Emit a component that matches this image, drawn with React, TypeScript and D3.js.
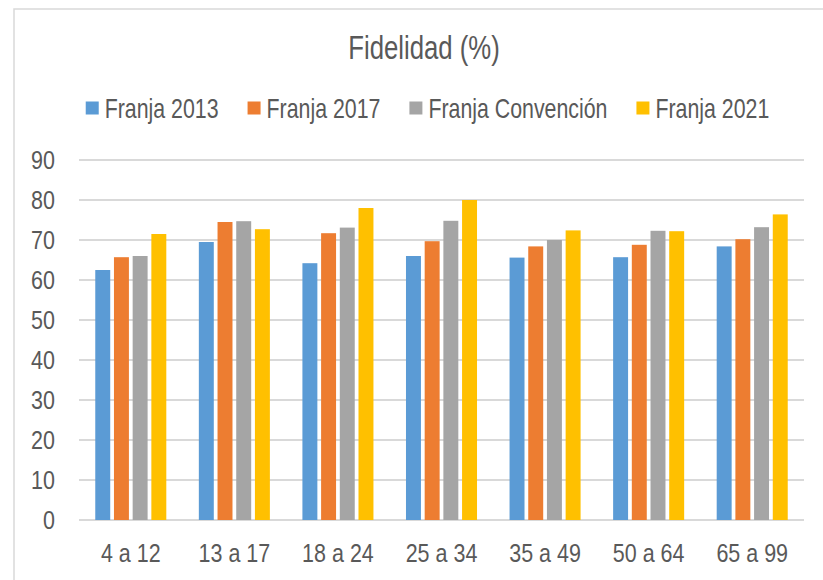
import React from "react";
import * as d3 from "d3";

const categories = ["4 a 12", "13 a 17", "18 a 24", "25 a 34", "35 a 49", "50 a 64", "65 a 99"];
const seriesNames = ["Franja 2013", "Franja 2017", "Franja Convención", "Franja 2021"];
const franja2013 = [62.5, 69.5, 64.2, 66.0, 65.6, 65.7, 68.4];
const franja2017 = [65.7, 74.5, 71.7, 69.7, 68.4, 68.8, 70.2];
const franjaConvencion = [66.0, 74.7, 73.1, 74.8, 70.0, 72.3, 73.2];
const franja2021 = [71.5, 72.7, 78.0, 80.0, 72.4, 72.2, 76.4];
const yTicks = [0, 10, 20, 30, 40, 50, 60, 70, 80, 90];
const colors = ["#5B9BD5", "#ED7D31", "#A5A5A5", "#FFC000"];

const seriesValues = [franja2013, franja2017, franjaConvencion, franja2021];

const W = 823;
const H = 580;
const FONT = "'Liberation Sans', Arial, sans-serif";
const TEXT = "#595959";

let ctx: CanvasRenderingContext2D | null = null;
function measure(text: string, size: number): number {
  if (!ctx) ctx = document.createElement("canvas").getContext("2d");
  if (!ctx) return text.length * size * 0.5;
  ctx.font = `${size}px ${FONT}`;
  return ctx.measureText(text).width;
}

function SText({ x, y, size, sx, anchor = "start", children }: any) {
  return (
    <text
      transform={`translate(${x},${y}) scale(${sx},1)`}
      fontSize={size}
      fontFamily={FONT}
      fill={TEXT}
      textAnchor={anchor}
    >
      {children}
    </text>
  );
}

export default function App() {
  const left = 79;
  const right = 804;
  const y = d3.scaleLinear().domain([0, 90]).range([520, 160]);
  const x0 = d3.scaleBand<string>().domain(categories).range([left, right]).paddingInner(0.278).paddingOuter(0.139);
  const x1 = d3.scaleBand<string>().domain(seriesNames).range([0, x0.bandwidth()]).paddingInner(0.2).paddingOuter(0.1);

  const legendSize = 27;
  const legendSx = 0.79;
  const sq = 13;
  const sqGap = 6;
  const itemGap = 29;
  const widths = seriesNames.map((n) => measure(n, legendSize) * legendSx);
  const total = widths.reduce((a, w) => a + sq + sqGap + w, 0) + itemGap * (seriesNames.length - 1);
  let cur = 427.5 - total / 2;
  const legendItems = seriesNames.map((n, i) => {
    const item = { name: n, x: cur, color: colors[i] };
    cur += sq + sqGap + widths[i] + itemGap;
    return item;
  });

  const axisSize = 25;
  const axisSx = 0.86;

  return (
    <svg width={W} height={H} style={{ position: "absolute", left: 0, top: 0 }}>
      <rect x={0} y={0} width={W} height={H} fill="#ffffff" />
      <rect x={14} y={9} width={W + 20} height={H + 20} fill="#ffffff" stroke="#d9d9d9" strokeWidth={1.5} />
      <SText x={424} y={59} size={33} sx={0.78} anchor="middle">Fidelidad (%)</SText>
      {legendItems.map((it) => (
        <g key={it.name}>
          <rect x={it.x} y={101.5} width={sq} height={sq} fill={it.color} />
          <SText x={it.x + sq + sqGap} y={118} size={legendSize} sx={legendSx}>{it.name}</SText>
        </g>
      ))}
      {yTicks.map((t) => (
        <g key={t}>
          <line x1={left} x2={right} y1={y(t)} y2={y(t)} stroke="#d9d9d9" strokeWidth={2} />
          <SText x={55} y={y(t) + 9} size={axisSize} sx={axisSx} anchor="end">{t}</SText>
        </g>
      ))}
      {categories.map((c, ci) => (
        <g key={c} transform={`translate(${x0(c)},0)`}>
          {seriesNames.map((s, si) => {
            const v = seriesValues[si][ci];
            return (
              <rect
                key={s}
                x={x1(s)}
                y={y(v)}
                width={x1.bandwidth()}
                height={y(0) - y(v)}
                fill={colors[si]}
              />
            );
          })}
        </g>
      ))}
      {categories.map((c) => (
        <SText key={c} x={(x0(c) as number) + x0.bandwidth() / 2} y={562} size={axisSize} sx={axisSx} anchor="middle">{c}</SText>
      ))}
    </svg>
  );
}
